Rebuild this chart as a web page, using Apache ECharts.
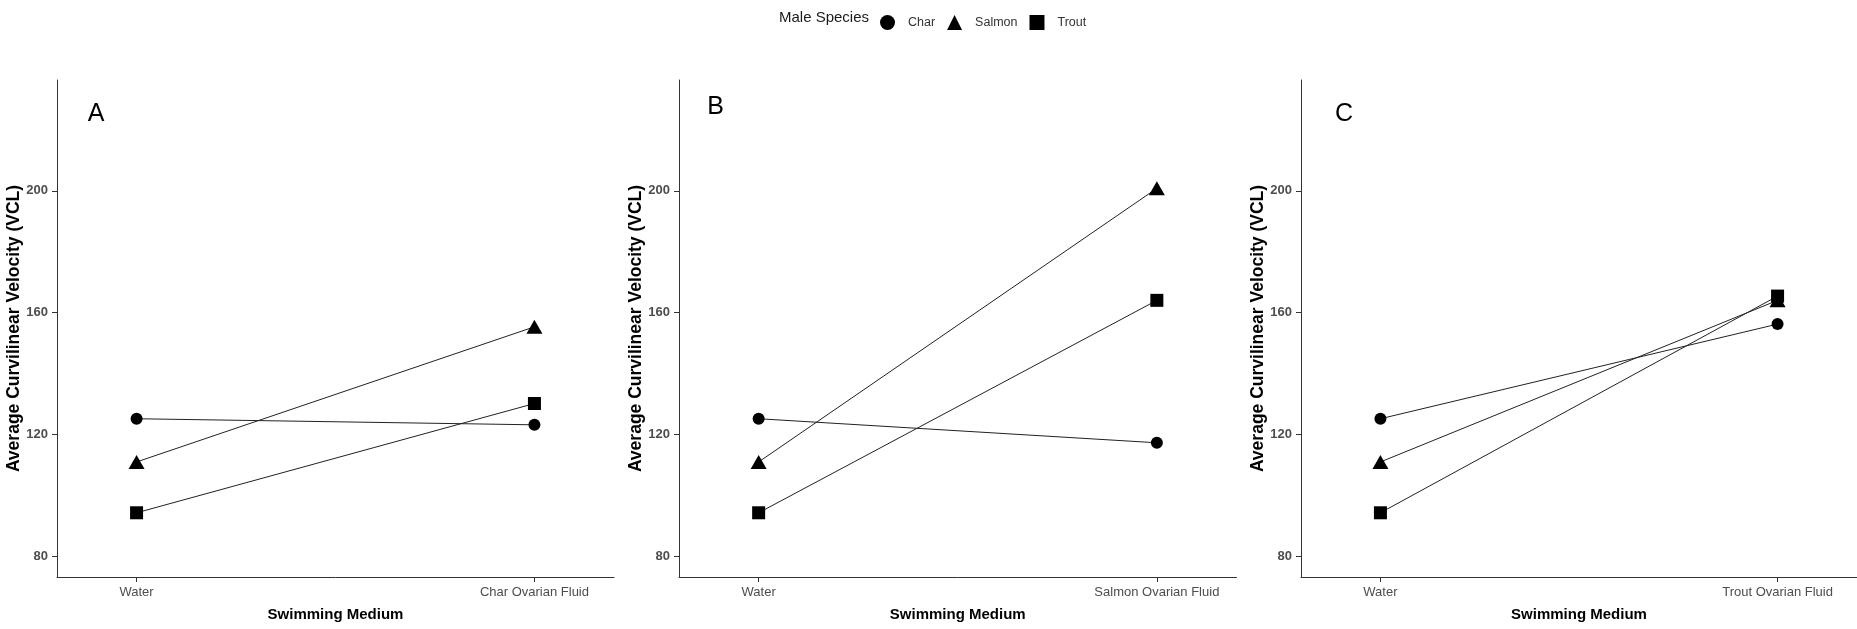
<!DOCTYPE html>
<html><head><meta charset="utf-8">
<script src="https://cdn.jsdelivr.net/npm/echarts@6/dist/echarts.min.js"></script>
<style>html,body{margin:0;padding:0;background:#fff}#c{width:1857px;height:629px}</style>
</head><body><div id="c"></div>
<script>
// ---- data ----
const species = ['Char', 'Salmon', 'Trout'];
const speciesSymbols = ['circle', 'triangle', 'rect'];
const panelLetters = ['A', 'B', 'C'];
const xCategoriesA = ['Water', 'Char Ovarian Fluid'];
const xCategoriesB = ['Water', 'Salmon Ovarian Fluid'];
const xCategoriesC = ['Water', 'Trout Ovarian Fluid'];
// values ordered as species: Char, Salmon, Trout
const waterValues = [125.1, 110.9, 94.2];
const charFluidValues = [123.1, 155.3, 130.1];
const salmonFluidValues = [117.2, 200.8, 164.0];
const troutFluidValues = [156.2, 164.0, 165.4];
const yTicks = [80, 120, 160, 200];
const yTitle = 'Average Curvilinear Velocity (VCL)';
const xTitle = 'Swimming Medium';
const legendTitle = 'Male Species';

// ---- layout ----
const FONT = '"Liberation Sans", Arial, sans-serif';
const panels = [
  { cats: xCategoriesA, fluid: charFluidValues, left: 57, width: 557, letterX: 96, letterY: 114 },
  { cats: xCategoriesB, fluid: salmonFluidValues, left: 679, width: 557.5, letterX: 715.5, letterY: 107 },
  { cats: xCategoriesC, fluid: troutFluidValues, left: 1301, width: 556, letterX: 1344, letterY: 114.5 }
];
const symbolSizes = [12, [16, 14], 13];

const grids = [], xAxes = [], yAxes = [], series = [], graphics = [];
panels.forEach((p, i) => {
  grids.push({ left: p.left, top: 80, width: p.width, height: 497 });
  xAxes.push({
    type: 'value', gridIndex: i, min: -0.2, max: 1.2,
    name: xTitle, nameLocation: 'middle', nameGap: 30, nameMoveOverlap: false,
    nameTextStyle: { fontFamily: FONT, fontWeight: 'bold', fontSize: 15, color: '#000' },
    axisLine: { show: true, onZero: false, lineStyle: { color: '#333', width: 1 } },
    axisTick: { show: true, length: 5, customValues: [0, 1], lineStyle: { color: '#333' } },
    axisLabel: { customValues: [0, 1], margin: 9, fontFamily: FONT, fontSize: 13, color: '#4d4d4d',
      formatter: v => p.cats[Math.round(v)] },
    splitLine: { show: false }
  });
  yAxes.push({
    type: 'value', gridIndex: i, min: 73.1, max: 236.4,
    name: yTitle, nameLocation: 'middle', nameGap: 34, nameMoveOverlap: false,
    nameTextStyle: { fontFamily: FONT, fontWeight: 'bold', fontSize: 17.5, color: '#000' },
    axisLine: { show: true, onZero: false, lineStyle: { color: '#333', width: 1 } },
    axisTick: { show: true, length: 5, customValues: yTicks, lineStyle: { color: '#333' } },
    axisLabel: { customValues: yTicks, margin: 9, fontFamily: FONT, fontSize: 13, fontWeight: 'bold', color: '#4d4d4d' },
    splitLine: { show: false }
  });
  species.forEach((s, k) => {
    series.push({
      type: 'line', name: s, xAxisIndex: i, yAxisIndex: i,
      data: [[0, waterValues[k]], [1, p.fluid[k]]],
      symbol: speciesSymbols[k], symbolSize: symbolSizes[k], showAllSymbol: true,
      itemStyle: { color: '#000' },
      lineStyle: { color: '#222', width: 1 },
      z: 2 + k
    });
  });
  graphics.push({
    type: 'text', x: p.letterX, y: p.letterY,
    style: { text: panelLetters[i], font: '25px ' + FONT, fill: '#000', textAlign: 'center', textVerticalAlign: 'middle' }
  });
});
graphics.push({
  type: 'text', x: 779, y: 18,
  style: { text: legendTitle, font: '15px ' + FONT, fill: '#1a1a1a', textAlign: 'left', textVerticalAlign: 'middle' }
});

const chart = echarts.init(document.getElementById('c'), null, { renderer: 'canvas' });
chart.setOption({
  animation: false,
  backgroundColor: '#fff',
  textStyle: { fontFamily: FONT },
  grid: grids, xAxis: xAxes, yAxis: yAxes, series: series,
  legend: {
    left: 875, top: 10, itemWidth: 15, itemHeight: 15, itemGap: 12,
    selectedMode: false,
    data: species.map((s, k) => ({ name: s, icon: speciesSymbols[k] })),
    textStyle: { fontFamily: FONT, fontSize: 12.5, color: '#333', padding: [0, 0, 0, 8] }
  },
  graphic: graphics
});
</script></body></html>
